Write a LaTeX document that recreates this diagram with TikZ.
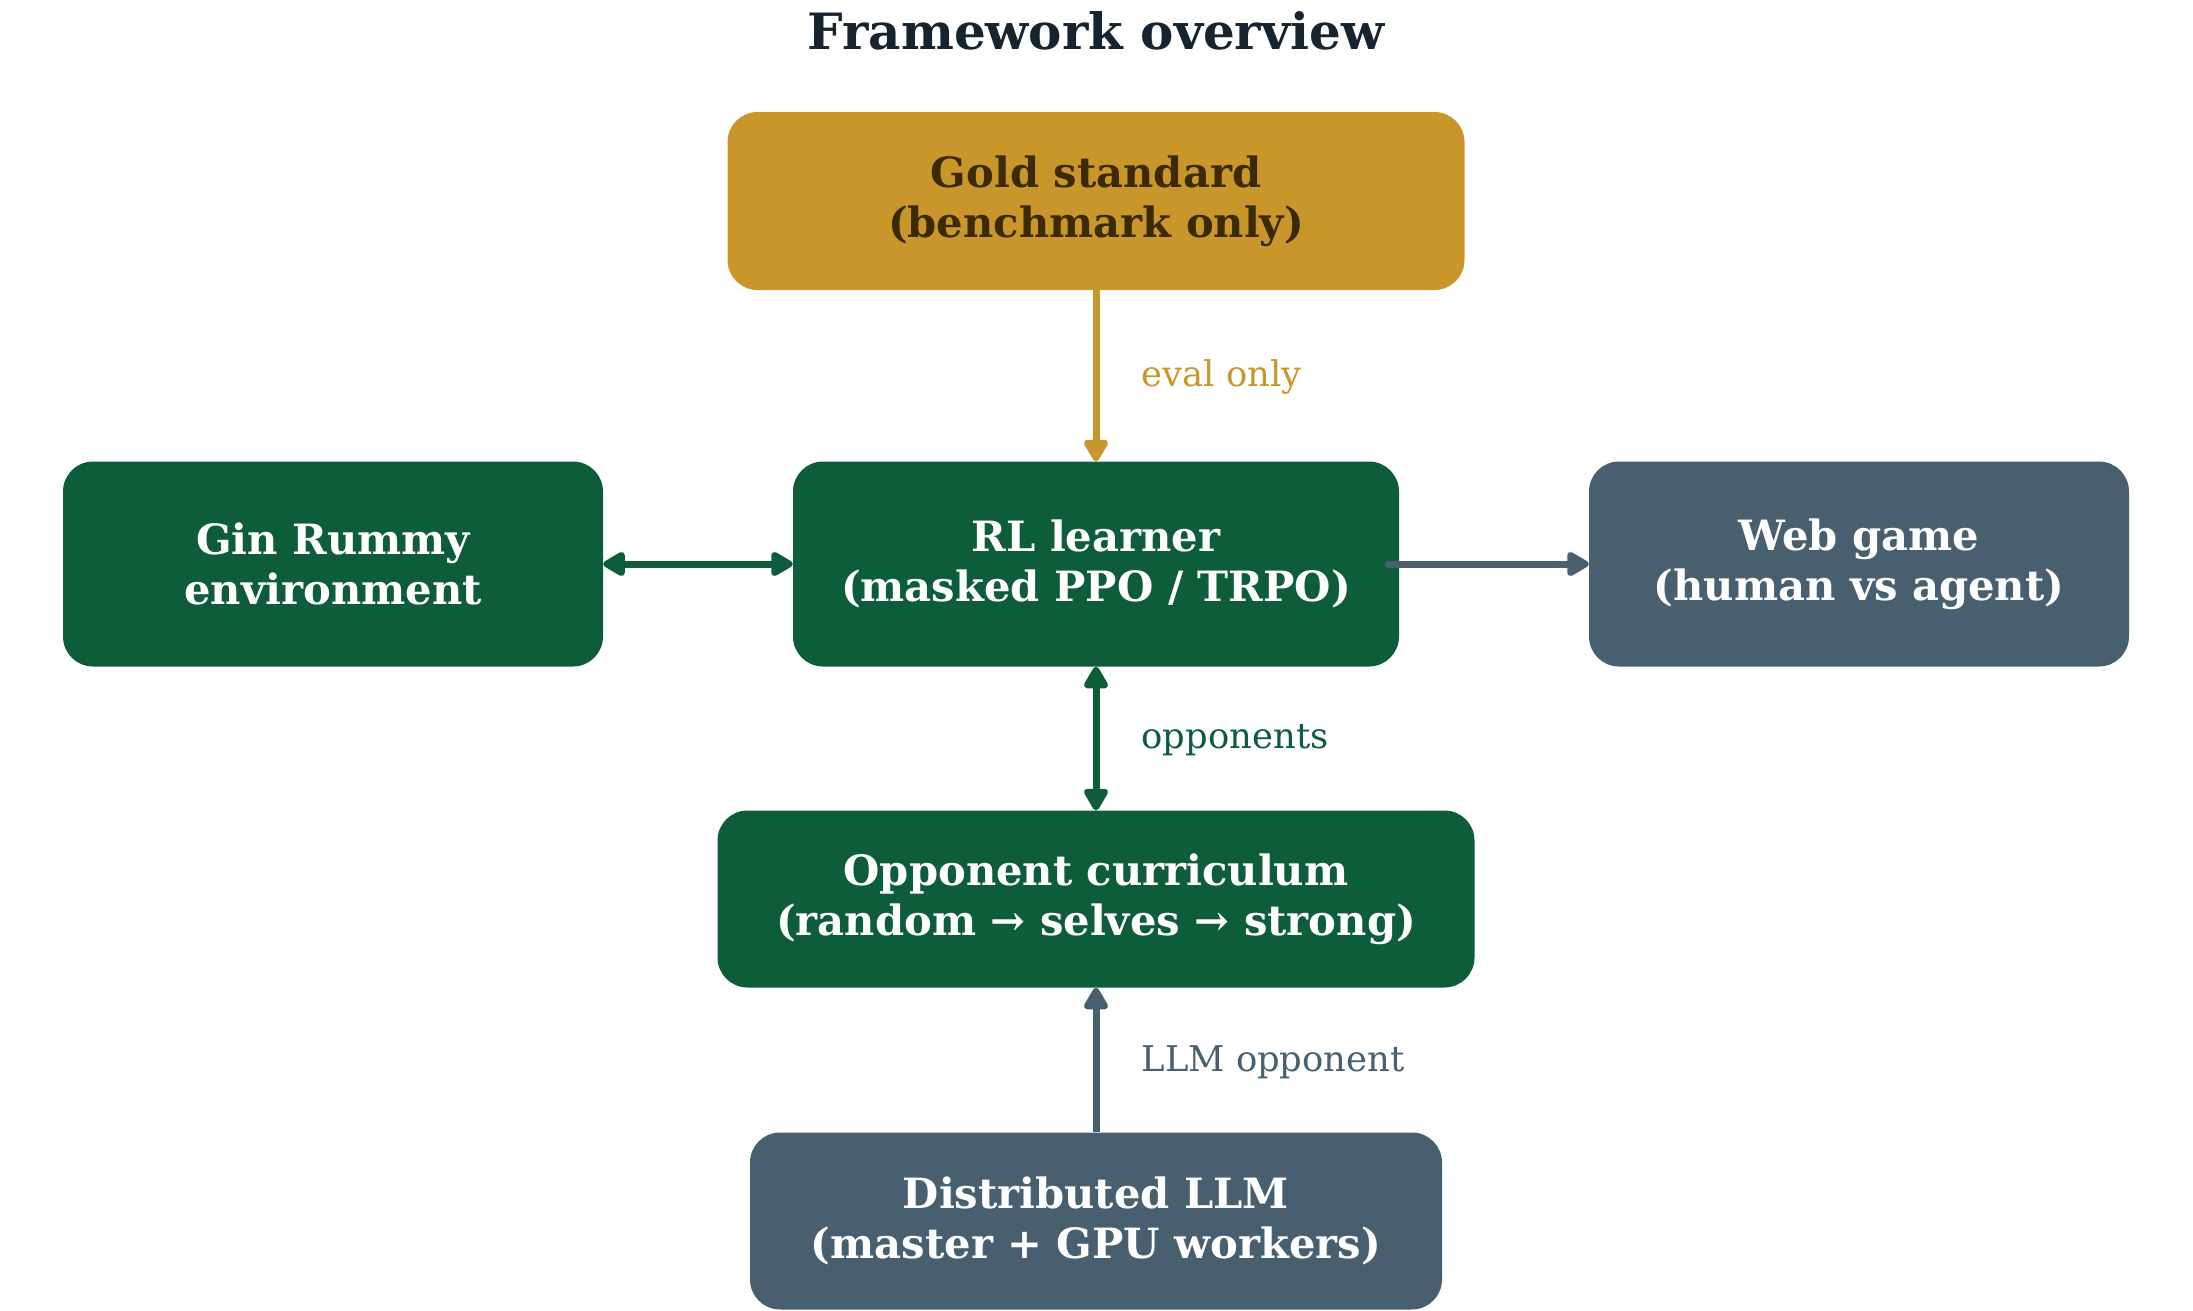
\documentclass[tikz,border=0pt]{standalone}
\usepackage{fontspec}
\setmainfont{DejaVu Serif}
\usetikzlibrary{arrows.meta}
\definecolor{cgreen}{HTML}{0D5C3A}
\definecolor{cgrey}{HTML}{475F6E}
\definecolor{cgold}{HTML}{C9962B}
\definecolor{cgoldtxt}{HTML}{3B2A02}
\definecolor{ctitle}{HTML}{17232E}
\tikzset{tip/.tip={Triangle[length=25pt,width=27pt,round]}}
\begin{document}
\begin{tikzpicture}[x=1pt,y=-1pt,
  box/.style={rounded corners=30pt, inner sep=0pt, align=center,
    font=\fontsize{41.7}{50}\selectfont\bfseries, text=white},
  lbl/.style={anchor=west, font=\fontsize{35.4}{42}\selectfont},
  arr/.style={line width=7pt, -tip},
  darr/.style={line width=7pt, tip-tip}
]
\useasboundingbox (0,0) rectangle (2193,1310);
\node[font=\fontsize{50}{60}\selectfont\bfseries, text=ctitle] (title) at (1096,31) {Framework overview};
\node[box, fill=cgold, text=cgoldtxt, minimum width=737pt, minimum height=178pt] (gold) at (1096,201) {Gold standard\\(benchmark only)};
\node[box, fill=cgreen, minimum width=606pt, minimum height=205pt] (rl) at (1096,564) {RL learner\\(masked PPO / TRPO)};
\node[box, fill=cgreen, minimum width=540pt, minimum height=205pt] (gin) at (333,564) {Gin Rummy\\environment};
\node[box, fill=cgrey, minimum width=540pt, minimum height=205pt] (web) at (1859,564) {Web game\\(human vs agent)};
\node[box, fill=cgreen, minimum width=757pt, minimum height=177pt] (opp) at (1096,899) {Opponent curriculum\\(random → selves → strong)};
\node[box, fill=cgrey, minimum width=692pt, minimum height=177pt] (llm) at (1096,1221) {Distributed LLM\\(master + GPU workers)};

\draw[arr, cgold] (gold.south) -- (rl.north);
\node[lbl, text=cgold] (l1) at (1138,377) {eval only};
\draw[darr, cgreen] (gin.east) -- (rl.east -| rl.west);
\draw[arr, cgrey, line cap=round] ([xshift=-11pt]rl.east) -- (web.west);
\draw[darr, cgreen] (rl.south) -- (opp.north);
\node[lbl, text=cgreen] (l2) at (1138,740) {opponents};
\draw[arr, cgrey] (llm.north) -- (opp.south);
\node[lbl, text=cgrey] (l3) at (1138,1062) {LLM opponent};
\end{tikzpicture}
\end{document}
